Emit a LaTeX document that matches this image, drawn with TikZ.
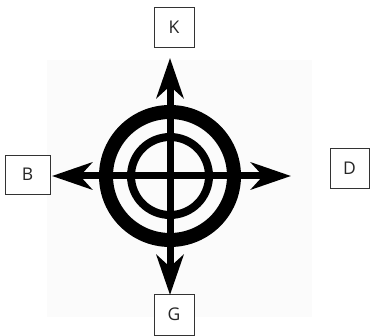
\documentclass[tikz,border=0pt]{standalone}
\usepackage{fontspec}
\setmainfont{Open Sans}
\usetikzlibrary{arrows.meta}
\begin{document}
\begin{tikzpicture}[x=1pt,y=-1pt,
  lbox/.style={draw=black!80,line width=0.9pt,fill=white,minimum width=40pt,minimum height=40pt,inner sep=0pt,font=\fontsize{17.5}{20}\selectfont,text=black!85},
  axis/.style={line width=7pt,-{Stealth[length=40pt,width=27pt,inset=12pt]}},
  ring/.style={line width=14pt},
  iring/.style={line width=8pt}]
\useasboundingbox (0,0) rectangle (370,336);
\fill[black!1.5] (47,60) rectangle (312,317);
\node[lbox] (K) at (174,27.5) {K};
\node[lbox,minimum width=45pt,minimum height=39pt] (B) at (27.5,174.5) {B};
\node[lbox,minimum width=39pt] (D) at (349.5,168) {D};
\node[lbox,minimum height=41pt] (G) at (174,314.5) {G};
\coordinate (c) at (170,176);
\draw[ring] (c) circle[radius=64];
\draw[iring] (c) circle[radius=39];
\coordinate (tk) at (170,58);
\coordinate (tb) at (52,176);
\coordinate (td) at (291,176);
\coordinate (tg) at (170,295);
\draw[axis] (c) -- (tk);
\draw[axis] (c) -- (tb);
\draw[axis] (c) -- (td);
\draw[axis] (c) -- (tg);
\end{tikzpicture}
\end{document}
